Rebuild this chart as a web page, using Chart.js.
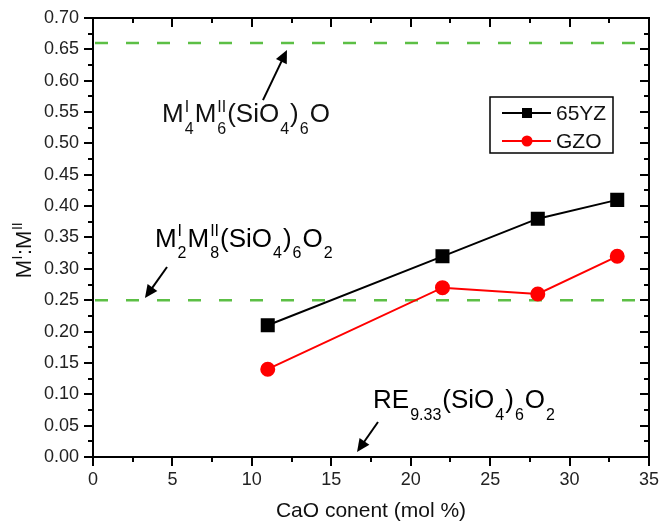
<!DOCTYPE html>
<html>
<head>
<meta charset="utf-8">
<script src="https://cdn.jsdelivr.net/npm/chart.js@4/dist/chart.umd.min.js"></script>
<style>
html,body{margin:0;padding:0;background:#fff;}
#wrap{width:660px;height:526px;}
</style>
</head>
<body>
<div id="wrap"><canvas id="c" width="660" height="526"></canvas></div>
<script>
// ---- data ----
const cao = [11, 22, 28, 33];
const ratio65YZ = [0.21, 0.32, 0.38, 0.41];
const ratioGZO = [0.14, 0.27, 0.26, 0.32];
const refLevels = [0.66, 0.25];
const seriesNames = ['65YZ', 'GZO'];
const xTickValues = [0, 5, 10, 15, 20, 25, 30, 35];
const yTickValues = [0, 0.05, 0.1, 0.15, 0.2, 0.25, 0.3, 0.35, 0.4, 0.45, 0.5, 0.55, 0.6, 0.65, 0.7];
const xTitle = 'CaO conent (mol %)';

const FONT = '"Liberation Sans", Arial, sans-serif';

// rich text helpers: segments {t} or {sup, sub}
function drawRich(ctx, segs, x, y, size, subSize, align, gap, supRaise, subDrop) {
  const widthOf = s => {
    if (s.t !== undefined) { ctx.font = size + 'px ' + FONT; return ctx.measureText(s.t).width; }
    ctx.font = subSize + 'px ' + FONT;
    const a = s.sup ? ctx.measureText(s.sup).width : 0;
    const b = s.sub ? ctx.measureText(s.sub).width : 0;
    return Math.max(a, b) + 2 * gap;
  };
  let total = 0;
  segs.forEach(s => total += widthOf(s));
  let cx = align === 'center' ? x - total / 2 : x;
  ctx.textBaseline = 'alphabetic';
  ctx.textAlign = 'left';
  segs.forEach(s => {
    const w = widthOf(s);
    if (s.t !== undefined) {
      ctx.font = size + 'px ' + FONT;
      ctx.fillText(s.t, cx, y);
    } else {
      ctx.font = subSize + 'px ' + FONT;
      if (s.sup) ctx.fillText(s.sup, cx + gap, y - supRaise);
      if (s.sub) ctx.fillText(s.sub, cx + gap, y + subDrop);
    }
    cx += w;
  });
}

const annotations = [
  { segs: [{t:'M'},{sup:'I',sub:'4'},{t:'M'},{sup:'II',sub:'6'},{t:'(SiO'},{sub:'4'},{t:')'},{sub:'6'},{t:'O'}],
    x: 4.35, y: 0.534, arrow: [10.70, 0.569, 12.21, 0.649] },
  { segs: [{t:'M'},{sup:'I',sub:'2'},{t:'M'},{sup:'II',sub:'8'},{t:'(SiO'},{sub:'4'},{t:')'},{sub:'6'},{t:'O'},{sub:'2'}],
    x: 3.90, y: 0.335, arrow: [4.66, 0.303, 3.27, 0.2535] },
  { segs: [{t:'RE'},{sub:'9.33'},{t:'(SiO'},{sub:'4'},{t:')'},{sub:'6'},{t:'O'},{sub:'2'}],
    x: 17.63, y: 0.078, arrow: [17.94, 0.0558, 16.62, 0.008] }
];

function arrow(ctx, x1, y1, x2, y2) {
  const ang = Math.atan2(y2 - y1, x2 - x1);
  const L = 13, W = 6;
  ctx.strokeStyle = '#000'; ctx.fillStyle = '#000'; ctx.lineWidth = 2;
  ctx.beginPath();
  ctx.moveTo(x1, y1);
  ctx.lineTo(x2 - Math.cos(ang) * (L - 2), y2 - Math.sin(ang) * (L - 2));
  ctx.stroke();
  ctx.beginPath();
  ctx.moveTo(x2, y2);
  ctx.lineTo(x2 - L * Math.cos(ang) + W * Math.sin(ang), y2 - L * Math.sin(ang) - W * Math.cos(ang));
  ctx.lineTo(x2 - L * Math.cos(ang) - W * Math.sin(ang), y2 - L * Math.sin(ang) + W * Math.cos(ang));
  ctx.closePath();
  ctx.fill();
}

const framePlugin = {
  id: 'frame',
  afterDraw(chart) {
    const ctx = chart.ctx;
    const a = chart.chartArea;
    const xs = chart.scales.x, ys = chart.scales.y;
    ctx.save();
    ctx.strokeStyle = '#000';
    ctx.lineWidth = 2;
    // ticks
    ctx.beginPath();
    for (let i = 0; i <= 28; i++) {
      const v = i * 0.025;
      const py = Math.round(ys.getPixelForValue(v));
      const len = i % 2 === 0 ? 9 : 5;
      ctx.moveTo(a.left - len, py); ctx.lineTo(a.left, py);
      ctx.moveTo(a.right, py); ctx.lineTo(a.right - len, py);
    }
    for (let i = 0; i <= 14; i++) {
      const v = i * 2.5;
      const px = Math.round(xs.getPixelForValue(v));
      const len = i % 2 === 0 ? 9 : 5;
      ctx.moveTo(px, a.bottom); ctx.lineTo(px, a.bottom + len);
      ctx.moveTo(px, a.top); ctx.lineTo(px, a.top + len);
    }
    ctx.stroke();
    ctx.strokeRect(a.left, a.top, a.right - a.left, a.bottom - a.top);

    // annotations
    ctx.fillStyle = '#111';
    annotations.forEach(an => {
      drawRich(ctx, an.segs, xs.getPixelForValue(an.x), ys.getPixelForValue(an.y), 26, 16, 'left', 1, 10.5, 11.5);
      const [x1, y1, x2, y2] = an.arrow;
      arrow(ctx, xs.getPixelForValue(x1), ys.getPixelForValue(y1), xs.getPixelForValue(x2), ys.getPixelForValue(y2));
    });

    // axis titles
    ctx.fillStyle = '#111';
    ctx.font = '21px ' + FONT;
    ctx.textAlign = 'center';
    ctx.textBaseline = 'alphabetic';
    ctx.fillText(xTitle, (a.left + a.right) / 2, 517);
    ctx.save();
    ctx.translate(31, 250);
    ctx.rotate(-Math.PI / 2);
    drawRich(ctx, [{t:'M'},{sup:'I'},{t:':M'},{sup:'II'}], 0, 0, 22, 14, 'center', 0.5, 9, 0);
    ctx.restore();

    // legend
    const lx = 490, ly = 97, lw = 123, lh = 56;
    ctx.lineWidth = 1.5;
    ctx.strokeStyle = '#000';
    ctx.strokeRect(lx, ly, lw, lh);
    const entries = [
      { name: seriesNames[0], color: '#000', style: 'rect', y: 113 },
      { name: seriesNames[1], color: '#ff0000', style: 'circle', y: 141 }
    ];
    entries.forEach(e => {
      ctx.strokeStyle = e.color; ctx.fillStyle = e.color; ctx.lineWidth = 2;
      ctx.beginPath(); ctx.moveTo(502, e.y); ctx.lineTo(551, e.y); ctx.stroke();
      ctx.beginPath();
      if (e.style === 'rect') ctx.rect(522, e.y - 5, 10, 10);
      else ctx.arc(527, e.y, 5.5, 0, Math.PI * 2);
      ctx.fill();
      ctx.fillStyle = '#111';
      ctx.font = '21px ' + FONT;
      ctx.textAlign = 'left';
      ctx.textBaseline = 'middle';
      ctx.fillText(e.name, 556, e.y + 1);
    });
    ctx.restore();
  }
};

const refDatasets = refLevels.map(v => ({
  label: 'ref ' + v,
  data: [{x: 0, y: v}, {x: 35, y: v}],
  borderColor: '#5cbf45',
  borderWidth: 2.5,
  borderDash: [13, 18],
  borderDashOffset: -2,
  pointRadius: 0,
  fill: false
}));

new Chart(document.getElementById('c'), {
  type: 'line',
  data: {
    datasets: [
      {
        label: seriesNames[0],
        data: cao.map((x, i) => ({x, y: ratio65YZ[i]})),
        borderColor: '#000', backgroundColor: '#000',
        borderWidth: 2, pointStyle: 'rect', pointRadius: 8.5, pointHoverRadius: 8.5
      },
      {
        label: seriesNames[1],
        data: cao.map((x, i) => ({x, y: ratioGZO[i]})),
        borderColor: '#ff0000', backgroundColor: '#ff0000',
        borderWidth: 2, pointStyle: 'circle', pointRadius: 6.5, pointHoverRadius: 6.5
      },
      ...refDatasets
    ]
  },
  options: {
    responsive: false,
    animation: false,
    events: [],
    layout: { padding: { top: 18, right: 11, left: 0, bottom: 0 } },
    plugins: { legend: { display: false }, tooltip: { enabled: false } },
    scales: {
      x: {
        type: 'linear', min: 0, max: 35,
        afterBuildTicks: s => { s.ticks = xTickValues.map(v => ({value: v})); },
        afterFit: s => { s.height = 69; s.paddingLeft = 0; s.paddingRight = 0; },
        grid: { drawOnChartArea: false, drawTicks: false },
        border: { display: false },
        ticks: { padding: 12, color: '#222', font: { family: FONT, size: 18 }, callback: v => String(v) }
      },
      y: {
        min: 0, max: 0.7,
        afterBuildTicks: s => { s.ticks = yTickValues.map(v => ({value: v})); },
        afterFit: s => { s.width = 93; s.paddingTop = 0; s.paddingBottom = 0; },
        grid: { drawOnChartArea: false, drawTicks: false },
        border: { display: false },
        ticks: { padding: 14, color: '#222', font: { family: FONT, size: 18 }, callback: v => v.toFixed(2) }
      }
    }
  },
  plugins: [framePlugin]
});
</script>
</body>
</html>
